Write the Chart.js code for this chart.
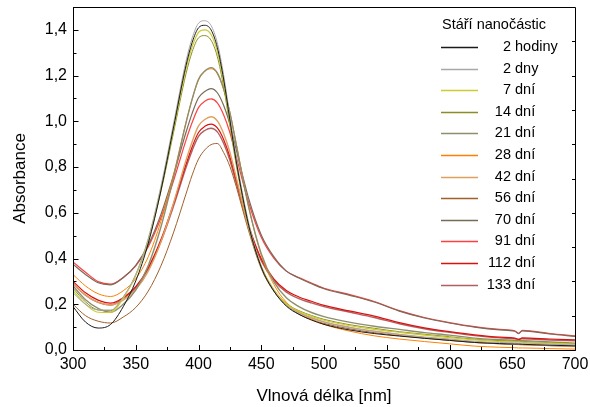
<!DOCTYPE html>
<html>
<head>
<meta charset="utf-8">
<script src="https://cdn.jsdelivr.net/npm/chart.js@4.4.1/dist/chart.umd.min.js"></script>
<style>
html,body{margin:0;padding:0;background:#fff;}
#wrap{width:590px;height:407px;}
</style>
</head>
<body>
<div id="wrap"><canvas id="c" width="590" height="407"></canvas></div>
<script>
// Wavelengths (nm)
const wavelengths = [300,310,320,330,340,350,360,370,380,390,395,400,405,410,415,420,425,430,440,450,460,470,480,490,500,520,540,560,580,600,620,640,652,655,658,680,700];

// Series labels
const ageNumbers = ['2','2','7','14','21','28','42','56','70','91','112','133'];
const ageUnits = ['hodiny','dny','dní','dní','dní','dní','dní','dní','dní','dní','dní','dní'];
const legendTitle = 'Stáří nanočástic';

// Absorbance values per sample
const a2hodiny = [0.19,0.122,0.096,0.112,0.189,0.302,0.467,0.696,0.97,1.243,1.346,1.409,1.42,1.40,1.323,1.185,1.006,0.827,0.545,0.362,0.258,0.192,0.156,0.131,0.112,0.088,0.072,0.061,0.051,0.042,0.033,0.028,0.026,0.026,0.025,0.021,0.018];
const a2dny = [0.25,0.20,0.175,0.175,0.232,0.331,0.489,0.715,0.987,1.262,1.365,1.429,1.44,1.419,1.343,1.204,1.023,0.842,0.555,0.366,0.26,0.195,0.162,0.14,0.122,0.098,0.082,0.069,0.057,0.048,0.038,0.033,0.031,0.03,0.03,0.026,0.022];
const a7dni = [0.26,0.20,0.165,0.164,0.226,0.328,0.483,0.701,0.963,1.229,1.327,1.389,1.40,1.38,1.306,1.172,0.998,0.824,0.547,0.365,0.263,0.201,0.169,0.147,0.13,0.107,0.09,0.077,0.065,0.054,0.044,0.038,0.035,0.035,0.034,0.03,0.026];
const a14dni = [0.27,0.21,0.175,0.172,0.231,0.327,0.479,0.692,0.948,1.207,1.305,1.365,1.375,1.355,1.283,1.152,0.982,0.812,0.542,0.363,0.263,0.203,0.172,0.151,0.134,0.111,0.095,0.08,0.069,0.058,0.047,0.041,0.038,0.038,0.037,0.032,0.028];
const a21dni = [0.28,0.22,0.182,0.165,0.20,0.262,0.37,0.537,0.753,0.992,1.098,1.184,1.22,1.235,1.212,1.142,1.038,0.899,0.625,0.421,0.299,0.228,0.19,0.164,0.146,0.122,0.104,0.09,0.076,0.065,0.052,0.045,0.042,0.041,0.041,0.035,0.03];
const a28dni = [0.33,0.28,0.246,0.234,0.259,0.312,0.408,0.562,0.764,0.995,1.098,1.18,1.218,1.23,1.208,1.14,1.04,0.905,0.626,0.415,0.287,0.209,0.165,0.135,0.112,0.083,0.062,0.048,0.037,0.027,0.017,0.012,0.01,0.009,0.009,0.006,0.004];
const a42dni = [0.29,0.24,0.209,0.197,0.218,0.264,0.345,0.472,0.641,0.829,0.912,0.98,1.008,1.02,1.002,0.947,0.865,0.756,0.533,0.364,0.262,0.20,0.165,0.141,0.123,0.10,0.082,0.067,0.054,0.045,0.034,0.028,0.025,0.024,0.024,0.019,0.015];
const a56dni = [0.20,0.15,0.126,0.118,0.144,0.186,0.258,0.367,0.512,0.682,0.766,0.835,0.875,0.898,0.903,0.864,0.803,0.716,0.52,0.356,0.257,0.196,0.157,0.133,0.116,0.093,0.076,0.063,0.052,0.042,0.033,0.027,0.024,0.024,0.023,0.019,0.015];
const a70dni = [0.375,0.33,0.294,0.285,0.316,0.37,0.46,0.592,0.763,0.951,1.036,1.103,1.13,1.143,1.125,1.07,0.987,0.878,0.662,0.503,0.408,0.345,0.315,0.29,0.268,0.24,0.21,0.17,0.14,0.118,0.10,0.088,0.082,0.072,0.084,0.07,0.06];
const a91dni = [0.385,0.34,0.299,0.288,0.317,0.368,0.452,0.577,0.738,0.917,0.996,1.06,1.088,1.098,1.081,1.029,0.951,0.847,0.644,0.493,0.402,0.345,0.317,0.293,0.27,0.243,0.212,0.172,0.142,0.12,0.102,0.09,0.084,0.073,0.086,0.072,0.062];
const a112dni = [0.30,0.25,0.218,0.205,0.229,0.277,0.36,0.482,0.638,0.811,0.889,0.951,0.978,0.988,0.971,0.921,0.845,0.744,0.545,0.399,0.311,0.26,0.232,0.213,0.195,0.171,0.148,0.12,0.097,0.08,0.066,0.056,0.052,0.046,0.053,0.048,0.044];
const a133dni = [0.29,0.24,0.208,0.197,0.224,0.272,0.353,0.473,0.627,0.797,0.873,0.934,0.96,0.97,0.954,0.904,0.83,0.731,0.536,0.391,0.305,0.253,0.225,0.206,0.19,0.166,0.142,0.115,0.093,0.077,0.063,0.053,0.049,0.047,0.049,0.044,0.04];

const seriesValues = [a2hodiny,a2dny,a7dni,a14dni,a21dni,a28dni,a42dni,a56dni,a70dni,a91dni,a112dni,a133dni];
const seriesColors = ['#1a1a1a','#a8a8a8','#cccc30','#8c8c28','#8e8e6e','#ff8000','#e0a060','#a0602a','#7a6a5a','#ff4040','#dd1010','#b06060'];
const seriesWidths = [1,1,1.2,1,1.4,1,1.4,1,1.2,1.2,1.2,1.4];

const xTickValues = [300,350,400,450,500,550,600,650,700];
const yTickValues = [0,0.2,0.4,0.6,0.8,1.0,1.2,1.4];

const FONT = 'Liberation Sans, Arial, sans-serif';

const datasets = seriesValues.map((vals, i) => ({
  label: ageNumbers[i] + ' ' + ageUnits[i],
  data: wavelengths.map((w, j) => ({x: w, y: vals[j]})),
  borderColor: seriesColors[i],
  backgroundColor: seriesColors[i],
  borderWidth: seriesWidths[i],
  pointRadius: 0,
  cubicInterpolationMode: 'monotone',
  fill: false
}));

const framePlugin = {
  id: 'frameTicks',
  afterDatasetsDraw(chart) {
    const ctx = chart.ctx;
    const {left, right, top, bottom} = chart.chartArea;
    const xs = chart.scales.x, ys = chart.scales.y;
    ctx.save();
    ctx.strokeStyle = '#000';
    ctx.lineWidth = 1;
    ctx.beginPath();
    ctx.rect(Math.round(left) + 0.5, Math.round(top) + 0.5, Math.round(right - left), Math.round(bottom - top));
    ctx.stroke();
    ctx.beginPath();
    for (let k = 0; k <= 15; k++) {
      const v = k / 10;
      const y = Math.round(ys.getPixelForValue(v)) + 0.5;
      const len = (k % 2 === 0) ? 5 : 3;
      ctx.moveTo(Math.round(left), y); ctx.lineTo(Math.round(left) + len + 0.5, y);
    }
    for (let k = 1; k <= 9; k++) {
      const v = k * 0.15;
      const y = Math.round(ys.getPixelForValue(v)) + 0.5;
      ctx.moveTo(Math.round(right) + 0.5, y); ctx.lineTo(Math.round(right) - 3, y);
    }
    for (let w = 300; w <= 700; w += 25) {
      const x = Math.round(xs.getPixelForValue(w)) + 0.5;
      const len = (w % 50 === 0) ? 5 : 3;
      ctx.moveTo(x, Math.round(bottom) + 0.5); ctx.lineTo(x, Math.round(bottom) - len);
    }
    ctx.stroke();

    // legend
    ctx.fillStyle = '#000';
    ctx.font = '14.5px ' + FONT;
    ctx.textBaseline = 'middle';
    ctx.textAlign = 'left';
    ctx.fillText(legendTitle, 442, 25);
    for (let i = 0; i < datasets.length; i++) {
      const y = 47 + i * 21.6;
      ctx.strokeStyle = seriesColors[i];
      ctx.lineWidth = seriesWidths[i] + 0.3;
      ctx.beginPath();
      ctx.moveTo(441, Math.round(y) + 0.5); ctx.lineTo(478, Math.round(y) + 0.5);
      ctx.stroke();
      ctx.fillStyle = '#000';
      ctx.textAlign = 'right';
      ctx.fillText(ageNumbers[i], 511, y);
      ctx.textAlign = 'left';
      ctx.fillText(' ' + ageUnits[i], 511, y);
    }
    ctx.restore();
  }
};

new Chart(document.getElementById('c'), {
  type: 'line',
  data: {datasets},
  plugins: [framePlugin],
  options: {
    responsive: false,
    animation: false,
    events: [],
    layout: {padding: {top: 7, right: 15, left: 0, bottom: 0}},
    plugins: {legend: {display: false}, tooltip: {enabled: false}},
    scales: {
      x: {
        type: 'linear', min: 300, max: 700,
        afterFit(s) { s.height = 57; s.paddingLeft = 0; s.paddingRight = 0; },
        afterBuildTicks(s) { s.ticks = xTickValues.map(v => ({value: v})); },
        grid: {display: false, drawTicks: false},
        border: {display: false},
        ticks: {color: '#000', font: {family: FONT, size: 16}, padding: 5, maxRotation: 0, callback: v => String(v)},
        title: {display: true, text: 'Vlnová délka [nm]', color: '#000', font: {family: FONT, size: 17}, padding: {top: 2, bottom: 0}}
      },
      y: {
        type: 'linear', min: 0, max: 1.5,
        afterFit(s) { s.width = 73; s.paddingTop = 0; s.paddingBottom = 0; },
        afterBuildTicks(s) { s.ticks = yTickValues.map(v => ({value: v})); },
        grid: {display: false, drawTicks: false},
        border: {display: false},
        ticks: {color: '#000', font: {family: FONT, size: 16}, padding: 6, callback: v => Number(v).toFixed(1).replace('.', ',')},
        title: {display: true, text: 'Absorbance', color: '#000', font: {family: FONT, size: 17}, padding: {top: 10, bottom: 0}}
      }
    }
  }
});
</script>
</body>
</html>
